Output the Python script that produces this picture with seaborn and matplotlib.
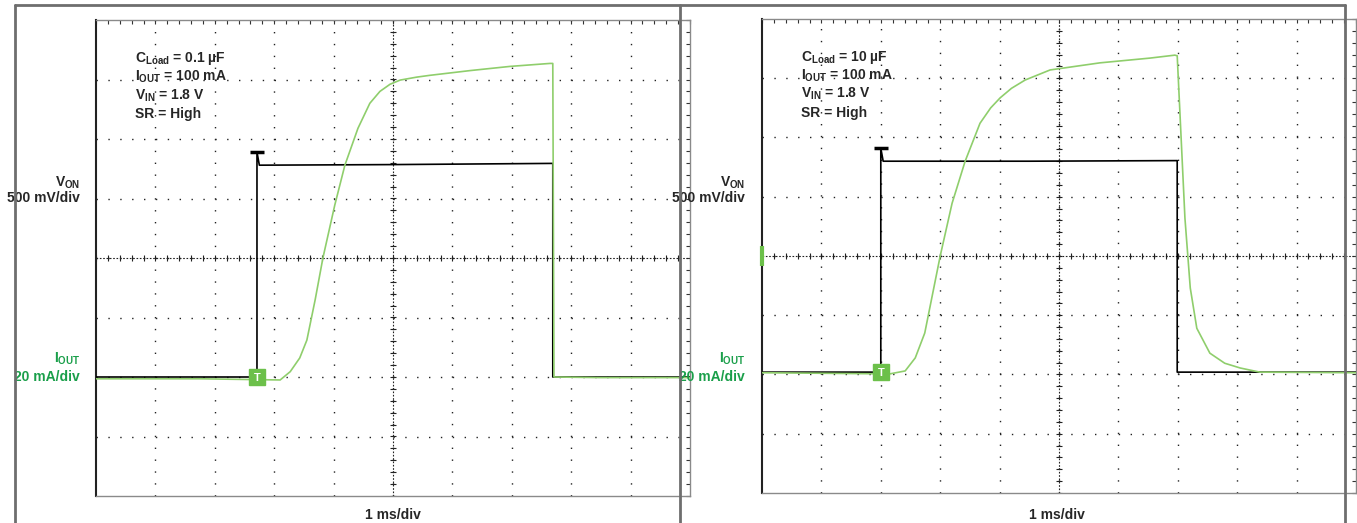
"""
Two oscilloscope captures of a load switch turn-on / turn-off:
V_ON (black, 500 mV/div) and I_OUT (green, 20 mA/div), 1 ms/div.
Traces are in screen divisions, read off the reference picture.
"""
import numpy as np
import matplotlib
matplotlib.use("Agg")
import matplotlib.pyplot as plt
from matplotlib.lines import Line2D
from matplotlib.ticker import MultipleLocator
import seaborn as sns

# ---- data (time in ms = divisions, amplitude in divisions from centre) ----
left_von_t = [0, 2.71, 2.71, 2.75, 5.0, 7.69, 7.69, 10]
left_von_v = [-2.0, -2.0, 1.78, 1.56, 1.57, 1.59, -2.0, -2.0]

left_iout_t = [0, 1.75, 3.10, 3.27, 3.43, 3.55, 3.69, 3.82, 4.02, 4.19, 4.41,
               4.61, 4.78, 4.95, 5.12, 5.40, 5.62, 6.30, 6.97, 7.64, 7.69, 7.71, 8.48, 10]
left_iout_v = [-2.03, -2.03, -2.05, -1.91, -1.68, -1.38, -0.70, 0.0, 0.89, 1.56, 2.18,
               2.60, 2.80, 2.92, 2.99, 3.04, 3.07, 3.15, 3.22, 3.27, 3.27, -2.0, -2.01, -2.01]

right_von_t = [0, 2.0, 2.0, 2.04, 4.5, 6.99, 6.99, 10]
right_von_v = [-1.96, -1.96, 1.82, 1.60, 1.60, 1.61, -1.96, -1.96]

right_iout_t = [0, 2.15, 2.41, 2.58, 2.74, 3.0, 3.2, 3.42, 3.67, 3.85, 4.01, 4.20, 4.43, 4.85,
                5.69, 6.53, 6.95, 6.99, 7.04, 7.12, 7.21, 7.32, 7.54, 7.79, 8.05, 8.38, 10]
right_iout_v = [-1.97, -1.99, -1.94, -1.72, -1.30, 0.0, 0.89, 1.60, 2.24, 2.50, 2.67, 2.83,
                2.97, 3.14, 3.26, 3.34, 3.39, 3.38, 2.33, 0.64, -0.54, -1.22, -1.64, -1.81,
                -1.89, -1.96, -1.97]

left_notes = [r"C$_{\mathbf{Load}}$ = 0.1 µF", r"I$_{\mathbf{OUT}}$ = 100 mA",
              r"V$_{\mathbf{IN}}$ = 1.8 V", "SR = High"]
right_notes = [r"C$_{\mathbf{Load}}$ = 10 µF", r"I$_{\mathbf{OUT}}$ = 100 mA",
               r"V$_{\mathbf{IN}}$ = 1.8 V", "SR = High"]

W, H = 1357, 523
TRACE_GREEN = "#8fce6c"
LABEL_GREEN = "#1a9f4a"
MARK_GREEN = "#6cc04a"
FRAME_GRAY = "#6e6e6e"

sns.set_style("white")
plt.rcParams["font.family"] = ["Liberation Sans", "DejaVu Sans"]
plt.rcParams["font.weight"] = "bold"
plt.rcParams["mathtext.fontset"] = "custom"
plt.rcParams["mathtext.rm"] = "Liberation Sans:bold"
plt.rcParams["mathtext.bf"] = "Liberation Sans:bold"
plt.rcParams["mathtext.default"] = "bf"

fig = plt.figure(figsize=(W / 100, H / 100), dpi=100)


def px_axes(x0, y0, x1, y1):
    return fig.add_axes([x0 / W, 1 - y1 / H, (x1 - x0) / W, (y1 - y0) / H])


def scope_grid(ax):
    ax.set_xlim(0, 10)
    ax.set_ylim(-4, 4)
    ax.set_xticks(range(0, 11))
    ax.set_yticks(range(-4, 5))
    ax.xaxis.set_minor_locator(MultipleLocator(0.2))
    ax.yaxis.set_minor_locator(MultipleLocator(0.2))
    ax.tick_params(which="both", direction="in", length=3, width=0.8, color="#333333",
                   top=True, right=True, labelbottom=False, labelleft=False)
    # dotted graticule
    for k in range(1, 10):
        ax.axvline(k, color="#222222", lw=1, ls=(0, (1, 7.55)), zorder=1)
    for k in range(-3, 4):
        ax.axhline(k, color="#222222", lw=1, ls=(0, (1, 7.55)), zorder=1)
    # centre cross with small tick marks
    ax.axhline(0, color="#222222", lw=0.8, ls=(0, (1.5, 1.5)), zorder=1)
    ax.axvline(5, color="#222222", lw=0.8, ls=(0, (1.5, 1.5)), zorder=1)
    minor = np.arange(0, 10.01, 0.2)
    ax.plot(minor, np.zeros_like(minor), ls="none", marker="|", ms=5, mew=0.8,
            color="#222222", zorder=1)
    minor_y = np.arange(-4, 4.01, 0.2)
    ax.plot(np.full_like(minor_y, 5), minor_y, ls="none", marker="_", ms=5, mew=0.8,
            color="#222222", zorder=1)
    for side in ["top", "right", "bottom"]:
        ax.spines[side].set_color("#8a8a8a")
        ax.spines[side].set_linewidth(1)
    ax.spines["left"].set_color("#222222")
    ax.spines["left"].set_linewidth(1.5)


def draw_panel(ax, von_t, von_v, iout_t, iout_v, notes, channel_tab):
    scope_grid(ax)
    sns.lineplot(x=von_t, y=von_v, ax=ax, sort=False, estimator=None,
                 color="black", lw=1.2, zorder=3)
    sns.lineplot(x=iout_t, y=iout_v, ax=ax, sort=False, estimator=None,
                 color=TRACE_GREEN, lw=1.2, zorder=4)
    # trigger overshoot bar and ground / trigger marker
    ax.plot(von_t[2], von_v[2], marker="_", ms=10, mew=2.5, color="black", zorder=5)
    ax.plot(von_t[1], von_v[1], marker="s", ms=11, color=MARK_GREEN, zorder=6)
    ax.text(von_t[1], von_v[1] - 0.02, "T", color="white", fontsize=8,
            ha="center", va="center", zorder=7)
    if channel_tab:
        ax.plot(0, 0, marker="|", ms=14, mew=3, color=MARK_GREEN, clip_on=False, zorder=6)
    for i, line in enumerate(notes):
        ax.text(0.65, 3.35 - 0.31 * i, line, fontsize=10, ha="left", va="center", zorder=8)


ax_l = px_axes(96, 20, 690, 496)
draw_panel(ax_l, left_von_t, left_von_v, left_iout_t, left_iout_v, left_notes, False)
ax_r = px_axes(762, 19, 1356, 493)
draw_panel(ax_r, right_von_t, right_von_v, right_iout_t, right_iout_v, right_notes, True)

# channel scale labels and time base
for xl, xc in [(80, 393), (745, 1057)]:
    fig.text(xl / W, 1 - 183 / H, r"V$_{\mathbf{ON}}$", fontsize=10, ha="right", va="center")
    fig.text(xl / W, 1 - 198 / H, "500 mV/div", fontsize=10, ha="right", va="center")
    fig.text(xl / W, 1 - 359 / H, r"I$_{\mathbf{OUT}}$", fontsize=10, ha="right",
             va="center", color=LABEL_GREEN)
    fig.text(xl / W, 1 - 377 / H, "20 mA/div", fontsize=10, ha="right", va="center",
             color=LABEL_GREEN)
    fig.text(xc / W, 1 - 515 / H, "1 ms/div", fontsize=10, ha="center", va="center")

# grey capture frame lines
for xs, ys in [([15, 15], [5, 523]), ([15, 1345], [5, 5]),
               ([680, 680], [5, 523]), ([1345, 1345], [5, 523])]:
    fig.add_artist(Line2D([x / W for x in xs], [1 - y / H for y in ys],
                          transform=fig.transFigure, color=FRAME_GRAY, lw=2, zorder=20))

fig.savefig("out.png", dpi=100)
